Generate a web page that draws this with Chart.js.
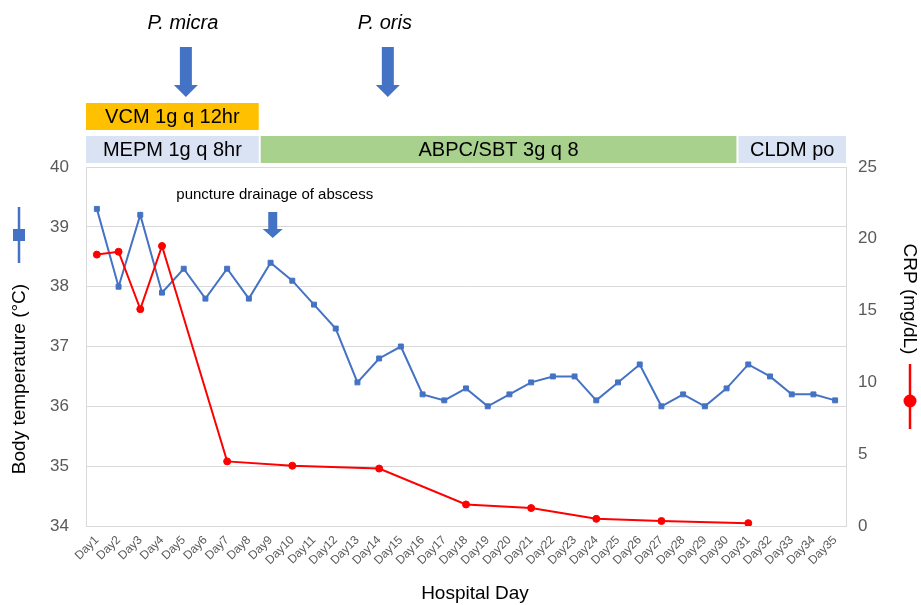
<!DOCTYPE html>
<html>
<head>
<meta charset="utf-8">
<script src="https://cdn.jsdelivr.net/npm/chart.js@4/dist/chart.umd.min.js"></script>
<style>
html,body{margin:0;padding:0;background:#fff;}
canvas{display:block;}
</style>
</head>
<body>
<canvas id="c" width="921" height="605"></canvas>
<script>
// ---- data ----
const days = Array.from({length: 35}, (_, i) => 'Day' + (i + 1));
const bodyTemp = [39.3, 38.0, 39.2, 37.9, 38.3, 37.8, 38.3, 37.8, 38.4, 38.1,
                  37.7, 37.3, 36.4, 36.8, 37.0, 36.2, 36.1, 36.3, 36.0, 36.2,
                  36.4, 36.5, 36.5, 36.1, 36.4, 36.7, 36.0, 36.2, 36.0, 36.3,
                  36.7, 36.5, 36.2, 36.2, 36.1];
const crp = [18.9, 19.1, 15.1, 19.5, null, null, 4.5, null, null, 4.2,
             null, null, null, 4.0, null, null, null, 1.5, null, null,
             1.25, null, null, 0.5, null, null, 0.35, null, null, null,
             0.2, null, null, null, null];
const tempTicks = [34, 35, 36, 37, 38, 39, 40];
const crpTicks = [0, 5, 10, 15, 20, 25];
// antibiotic regimens (row, label, first day index, last day index)
const regimenLabels = ['VCM 1g q 12hr', 'MEPM 1g q 8hr', 'ABPC/SBT 3g q 8', 'CLDM po'];
const regimenRows = [0, 1, 1, 1];
const regimenStart = [0, 0, 8, 30];
const regimenEnd = [7, 7, 29, 34];
const regimenColors = ['#FFC000', '#DAE3F3', '#A9D18E', '#DAE3F3'];
// culture results (label, day index position)
const cultureLabels = ['P. micra', 'P. oris'];
const cultureDay = [4.1, 13.4];
const drainageLabel = 'puncture drainage of abscess';
const drainageDay = 8.1;

const BLUE = '#4472C4';
const RED = '#FF0000';
const GREY = '#595959';
const FONT = '"Liberation Sans", Arial, sans-serif';

function downArrow(ctx, cx, yTop, yBottom, shaftW, headW, headH) {
  ctx.beginPath();
  ctx.moveTo(cx - shaftW / 2, yTop);
  ctx.lineTo(cx + shaftW / 2, yTop);
  ctx.lineTo(cx + shaftW / 2, yBottom - headH);
  ctx.lineTo(cx + headW / 2, yBottom - headH);
  ctx.lineTo(cx, yBottom);
  ctx.lineTo(cx - headW / 2, yBottom - headH);
  ctx.lineTo(cx - shaftW / 2, yBottom - headH);
  ctx.closePath();
  ctx.fillStyle = BLUE;
  ctx.fill();
}

const annotations = {
  id: 'annotations',
  afterDraw(chart) {
    const ctx = chart.ctx;
    const x = chart.scales.x;
    const ca = chart.chartArea;
    ctx.save();
    // regimen bars
    const rowY = [103, 136];
    const rowH = [27, 27];
    ctx.textAlign = 'center';
    ctx.textBaseline = 'middle';
    ctx.font = '20px ' + FONT;
    for (let i = 0; i < regimenLabels.length; i++) {
      let x0 = x.getPixelForValue(regimenStart[i] - 0.5);
      let x1 = x.getPixelForValue(regimenEnd[i] + 0.5);
      if (regimenStart[i] > 0) x0 += 1;
      if (regimenEnd[i] < days.length - 1) x1 -= 1;
      const r = regimenRows[i];
      ctx.fillStyle = regimenColors[i];
      ctx.fillRect(x0, rowY[r], x1 - x0, rowH[r]);
      ctx.fillStyle = '#000';
      ctx.fillText(regimenLabels[i], (x0 + x1) / 2, rowY[r] + rowH[r] / 2 + 1);
    }
    // culture arrows
    ctx.font = 'italic 20px ' + FONT;
    for (let i = 0; i < cultureLabels.length; i++) {
      const cx = x.getPixelForValue(cultureDay[i]);
      ctx.fillStyle = '#000';
      ctx.fillText(cultureLabels[i], cx - 3, 23);
      downArrow(ctx, cx, 47, 97, 12, 24, 12);
    }
    // drainage
    const dx = x.getPixelForValue(drainageDay);
    ctx.font = '15px ' + FONT;
    ctx.fillStyle = '#000';
    ctx.fillText(drainageLabel, dx + 2, 195);
    downArrow(ctx, dx, 212, 238, 9, 20, 9);

    // left axis title + legend marker
    ctx.save();
    ctx.translate(20, 379);
    ctx.rotate(-Math.PI / 2);
    ctx.font = '19px ' + FONT;
    ctx.fillStyle = '#000';
    ctx.fillText('Body temperature (\u00B0C)', 0, 0);
    ctx.restore();
    ctx.strokeStyle = BLUE;
    ctx.lineWidth = 2.5;
    ctx.beginPath();
    ctx.moveTo(19, 207);
    ctx.lineTo(19, 263);
    ctx.stroke();
    ctx.fillStyle = BLUE;
    ctx.fillRect(13, 229, 12, 12);

    // right axis title + legend marker
    ctx.save();
    ctx.translate(909, 299);
    ctx.rotate(Math.PI / 2);
    ctx.font = '19px ' + FONT;
    ctx.fillStyle = '#000';
    ctx.fillText('CRP (mg/dL)', 0, 0);
    ctx.restore();
    ctx.strokeStyle = RED;
    ctx.lineWidth = 2.5;
    ctx.beginPath();
    ctx.moveTo(910, 364);
    ctx.lineTo(910, 429);
    ctx.stroke();
    ctx.fillStyle = RED;
    ctx.beginPath();
    ctx.arc(910, 401, 6.5, 0, Math.PI * 2);
    ctx.fill();

    // x title
    ctx.font = '19px ' + FONT;
    ctx.fillStyle = '#000';
    ctx.fillText('Hospital Day', (ca.left + ca.right) / 2 + 9, 594);
    ctx.restore();
  }
};

new Chart(document.getElementById('c'), {
  type: 'line',
  data: {
    labels: days,
    datasets: [
      {
        label: 'Body temperature',
        data: bodyTemp,
        yAxisID: 'y',
        borderColor: BLUE,
        backgroundColor: BLUE,
        borderWidth: 2,
        pointStyle: 'rect',
        pointRadius: 3.5,
        pointBorderWidth: 1,
        pointHoverRadius: 3.5,
        tension: 0,
        order: 2
      },
      {
        label: 'CRP',
        data: crp,
        yAxisID: 'y1',
        borderColor: RED,
        backgroundColor: RED,
        borderWidth: 2,
        pointStyle: 'circle',
        pointRadius: 3.5,
        pointBorderWidth: 1,
        pointHoverRadius: 3.5,
        spanGaps: true,
        tension: 0,
        order: 1
      }
    ]
  },
  options: {
    responsive: false,
    animation: false,
    devicePixelRatio: 1,
    layout: { padding: { top: 167, left: 0, right: 0, bottom: 0 } },
    plugins: { legend: { display: false }, tooltip: { enabled: false } },
    scales: {
      x: {
        type: 'category',
        offset: true,
        grid: { display: false, drawTicks: false },
        border: { display: true, color: '#D9D9D9', width: 1 },
        ticks: {
          color: GREY,
          font: { family: FONT, size: 12 },
          maxRotation: 45,
          minRotation: 45,
          autoSkip: false,
          padding: 7
        },
        afterFit(s) { s.height = 79; }
      },
      y: {
        position: 'left',
        min: 34,
        max: 40,
        afterBuildTicks(s) { s.ticks = tempTicks.map(v => ({ value: v })); },
        grid: { color: '#D9D9D9', drawTicks: false, lineWidth: 1 },
        border: { display: true, color: '#D9D9D9', width: 1 },
        ticks: {
          color: GREY,
          font: { family: FONT, size: 17 },
          padding: 17
        },
        afterFit(s) { s.width = 86; }
      },
      y1: {
        position: 'right',
        min: 0,
        max: 25,
        afterBuildTicks(s) { s.ticks = crpTicks.map(v => ({ value: v })); },
        grid: { display: false, drawTicks: false },
        border: { display: true, color: '#D9D9D9', width: 1 },
        ticks: {
          color: GREY,
          font: { family: FONT, size: 17 },
          padding: 12
        },
        afterFit(s) { s.width = 75; }
      }
    }
  },
  plugins: [annotations]
});
</script>
</body>
</html>
